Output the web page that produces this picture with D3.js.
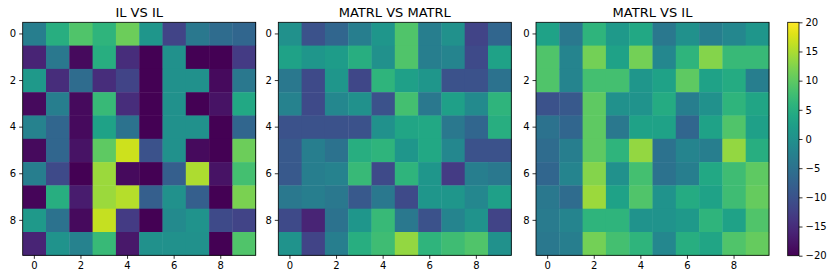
<!DOCTYPE html>
<html><head><meta charset="utf-8">
<script src="https://cdn.jsdelivr.net/npm/d3@7"></script>
<style>body{margin:0;background:#fff}svg{display:block}text{font-family:"DejaVu Sans",sans-serif}</style>
</head><body><svg id="c" width="831" height="274"></svg>
<script>
const titles = ["IL VS IL", "MATRL VS MATRL", "MATRL VS IL"];
const indices = [0,1,2,3,4,5,6,7,8,9];
const tickVals = [0,2,4,6,8];
const cbTicks = [-20,-15,-10,-5,0,5,10,15,20];
const ilVsIl = [
 [-3,5,9,6,11,1,-12,-4,-6,-7],
 [-16,-4,-19,5,-15,-20,0,-20,-20,-13],
 [1.5,-15,-6,-15,-12,-20,0,0,-19,-4],
 [-19,-3,-19,7,-15,-20,0,-20,-18,4],
 [-2.5,-7,-19,3,-5,-20,0,0,-20,-7],
 [-19,-7,-18,10,17,-10,0,-19,-20,11],
 [-3,-11,-20,14,-19,-20,-8,15,-18,8],
 [-19.5,5,-17,14,15.5,-8,0,-8,-20,12],
 [1.5,-5,-19,16.5,-13,-20,-1,0.5,-11,-12],
 [-16,0.5,-2.5,7,-17.5,0,0,0,-20,9]
];
const matrlVsMatrl = [
 [0,-10,-7,-3,1,9,-3,0,-12,-7],
 [3,1,2,5,0,9,-3,-2,-11,3],
 [-4,-11,1,-11.5,6,2.5,1,-10,-10,-5],
 [-2.5,-11,-1.5,0,-10,8,-4,2.5,-1,6],
 [-10,-10,-10,-10,0,3.5,4,-4,-7,5],
 [-9,-3,-5,5,6,1,4,-1.5,-10,-10],
 [-9,-3,-2.5,7,-11,6,1,-13,-3,-4],
 [-4,-3,-4,-9,-4,-11,1,1,-1.5,2.5],
 [-11,-16,-5,1,7,-4,-10,-2,0.5,-12],
 [0.5,-12,-3,5,7.5,13.5,6,7.5,9,0]
];
const matrlVsIl = [
 [3,-4,6,1.5,4,-4,0,-3,-1.5,1],
 [9,-2,11.5,3,11.5,-1.5,6,12.5,7,7],
 [9,-2,8,8,1,3,10,3,4.5,-3],
 [-10,-9,10,0,0.5,4.5,-3,0,6,3.5],
 [-5,-7,10,-4,3,3,-7,3,9,2.5],
 [-6,-3,10,6,13.5,-5,-2,-3,13.5,5],
 [-7,-2,12.5,0,8,-5,-3,4,7.5,10],
 [-4,-6,14,3,9,0.5,4.5,3,7.5,10.5],
 [-3.5,-2,6,6,0.5,0.5,1.5,6,3,9],
 [-4,-3,11.5,8,6,-1.5,5,3.5,9,10.5]
];
const matrices = [ilVsIl, matrlVsMatrl, matrlVsIl];

const svg = d3.select("#c");
const color = d3.scaleSequential(d3.interpolateViridis).domain([-20,20]);
const panelX = [22.7, 278.3, 536];
const panelTop = 22.3, size = 233;
const minus = v => String(v).replace("-", "\u2212");

matrices.forEach((m, p) => {
  const x = d3.scaleBand().domain(indices).range([panelX[p], panelX[p]+size]);
  const y = d3.scaleBand().domain(indices).range([panelTop, panelTop+size]);
  const g = svg.append("g");
  const cells = [];
  m.forEach((row, r) => row.forEach((v, c) => cells.push({r, c, v})));
  g.selectAll("rect.cell").data(cells).join("rect")
    .attr("x", d => x(d.c)).attr("y", d => y(d.r))
    .attr("width", x.bandwidth()+0.4).attr("height", y.bandwidth()+0.4)
    .attr("fill", d => color(d.v));
  g.append("rect").attr("x", panelX[p]).attr("y", panelTop).attr("width", size).attr("height", size)
    .attr("fill", "none").attr("stroke", "#000").attr("stroke-width", 0.8);
  const ax = g.append("g").attr("transform", `translate(0,${panelTop+size})`)
    .call(d3.axisBottom(x).tickValues(tickVals).tickSize(3.5).tickPadding(3));
  const ay = g.append("g").attr("transform", `translate(${panelX[p]},0)`)
    .call(d3.axisLeft(y).tickValues(tickVals).tickSize(3.5).tickPadding(3));
  [ax, ay].forEach(a => {
    a.select(".domain").remove();
    a.selectAll("text").attr("font-size", 10).attr("fill", "#000").style("font-family", "DejaVu Sans");
    a.selectAll("line").attr("stroke", "#000").attr("stroke-width", 0.8);
  });
  g.append("text").attr("x", panelX[p]+size/2).attr("y", 16.5).attr("text-anchor", "middle")
    .attr("font-size", 13).attr("fill", "#000").text(titles[p]);
});

// colorbar
const cbX = 787.7, cbW = 11.3, cbTop = 22.3, cbH = 233.4;
const cy = d3.scaleLinear().domain([-20,20]).range([cbTop+cbH, cbTop]);
const defs = svg.append("defs");
const grad = defs.append("linearGradient").attr("id","vg").attr("x1",0).attr("y1",1).attr("x2",0).attr("y2",0);
d3.range(0,1.0001,0.05).forEach(t => grad.append("stop").attr("offset", t).attr("stop-color", d3.interpolateViridis(t)));
svg.append("rect").attr("x", cbX).attr("y", cbTop).attr("width", cbW).attr("height", cbH).attr("fill","url(#vg)")
  .attr("stroke","#000").attr("stroke-width",0.8);
const cax = svg.append("g").attr("transform", `translate(${cbX+cbW},0)`)
  .call(d3.axisRight(cy).tickValues(cbTicks).tickSize(3.5).tickPadding(3).tickFormat(minus));
cax.select(".domain").remove();
cax.selectAll("text").attr("font-size", 10).attr("fill","#000");
cax.selectAll("line").attr("stroke","#000").attr("stroke-width",0.8);
</script></body></html>
